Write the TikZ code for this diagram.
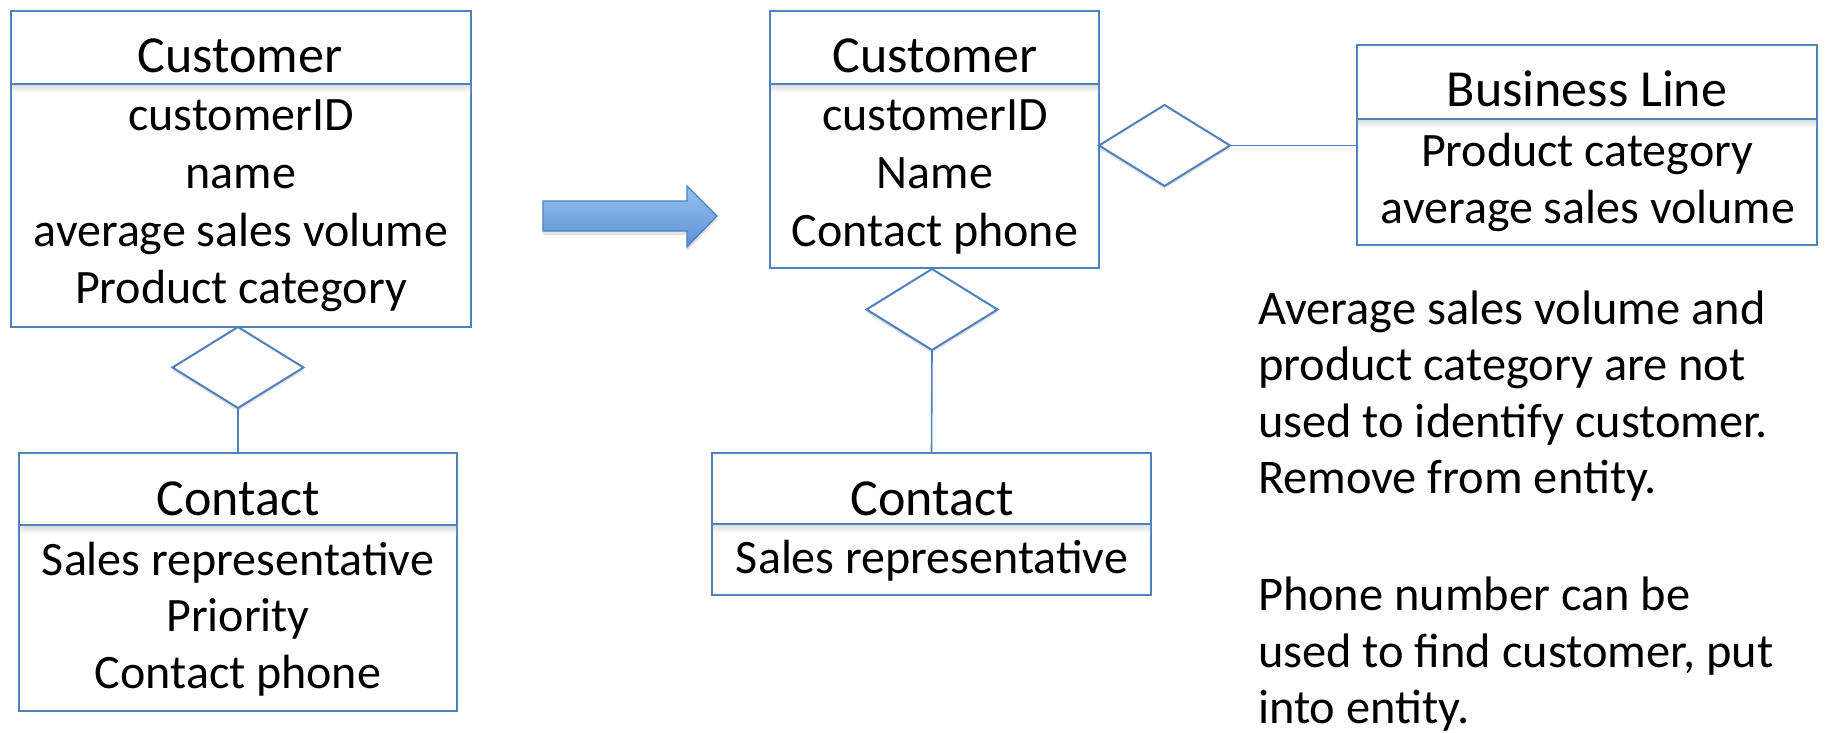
\documentclass[tikz,border=0pt]{standalone}
\usepackage{fontspec}
\setmainfont{Carlito}
\usetikzlibrary{shapes.geometric,shadows}

\definecolor{erblue}{HTML}{4F81BD}
\definecolor{arrowlight}{HTML}{98C0F0}
\definecolor{arrowdark}{HTML}{5A91D4}

\begin{document}
\begin{tikzpicture}[x=0.5pt, y=-0.5pt,
  entity/.style={draw=erblue, line width=1pt, fill=white, inner sep=0pt, outer sep=0pt},
  relation/.style={diamond, draw=erblue, line width=1pt, fill=white, inner sep=0pt, outer sep=0pt,
    minimum width=65.5pt, minimum height=40.5pt,
    drop shadow={shadow xshift=0pt, shadow yshift=-1.5pt, opacity=0.18, fill=black!60}},
  link/.style={erblue, line width=0.8pt},
  divider/.style={erblue, line width=0.8pt},
  divshade/.style={top color=black!13, bottom color=white, draw=none},
  txt/.style={anchor=base, inner sep=0pt, outer sep=0pt, font=\fontsize{24pt}{28.5pt}\selectfont},
  title/.style={txt, font=\fontsize{26pt}{30pt}\selectfont},
  notetxt/.style={txt, anchor=base west, font=\fontsize{24.2pt}{28.5pt}\selectfont}]
\useasboundingbox (0,0) rectangle (1826,733);
\fill[white] (0,0) rectangle (1826,733);

% ---------- left: original design ----------
\node[entity, minimum width=230pt, minimum height=158pt] (cust1) at (241,169) {};
\shade[divshade] (12,85) rectangle (470,93);
\draw[divider] (11,84) -- (471,84);
\node[title] (cust1t) at (240,73) {Customer};
\node[txt] (cust1a) at (241,131) {customerID};
\node[txt] (cust1b) at (241,188) {name};
\node[txt] (cust1c) at (241,246) {average sales volume};
\node[txt] (cust1d) at (241,303) {Product category};

\node[relation] (rel1) at (238,367.5) {};

\node[entity, minimum width=219pt, minimum height=129pt] (cont1) at (238,582) {};
\shade[divshade] (20,526) rectangle (456,534);
\draw[divider] (19,525) -- (457,525);
\node[title] (cont1t) at (238,515) {Contact};
\node[txt] (cont1a) at (238,575) {Sales representative};
\node[txt] (cont1b) at (238,631) {Priority};
\node[txt] (cont1c) at (238,688) {Contact phone};

\draw[link] (rel1.south) -- (cont1.north);

% ---------- transformation arrow ----------
\path[draw=erblue, line width=0.6pt, top color=arrowlight, bottom color=arrowdark,
      drop shadow={shadow xshift=0pt, shadow yshift=-2pt, opacity=0.22, fill=black!50}]
  (543,201) -- (687,201) -- (687,186) -- (717,216) -- (687,247) -- (687,231) -- (543,231) -- cycle;

% ---------- right: revised design ----------
\node[entity, minimum width=164.5pt, minimum height=128.5pt] (cust2) at (934.5,139.5) {};
\shade[divshade] (771,85) rectangle (1098,93);
\draw[divider] (770,84) -- (1099,84);
\node[title] (cust2t) at (935,73) {Customer};
\node[txt] (cust2a) at (935,131) {customerID};
\node[txt] (cust2b) at (935,188) {Name};
\node[txt] (cust2c) at (935,246) {Contact phone};

\node[relation] (rel2) at (932,309.5) {};

\node[entity, minimum width=219.5pt, minimum height=71pt] (cont2) at (931.5,524) {};
\shade[divshade] (713,525) rectangle (1150,533);
\draw[divider] (712,524) -- (1151,524);
\node[title] (cont2t) at (932,515) {Contact};
\node[txt] (cont2a) at (932,573) {Sales representative};

\draw[link] (rel2.south) -- (cont2.north);

\node[relation] (rel3) at (1164.5,145.5) {};

\node[entity, minimum width=230pt, minimum height=100pt] (biz) at (1587,145) {};
\shade[divshade] (1358,120) rectangle (1816,128);
\draw[divider] (1357,119) -- (1817,119);
\node[title] (bizt) at (1587,107) {Business Line};
\node[txt] (biza) at (1587,167) {Product category};
\node[txt] (bizb) at (1588,223) {average sales volume};

\draw[link] (rel3.east) -- (biz.west |- rel3.east);

% ---------- explanatory notes ----------
\node[notetxt] (n1) at (1258,324) {Average sales volume and};
\node[notetxt] (n2) at (1258,380) {product category are not};
\node[notetxt] (n3) at (1258,437) {used to identify customer.};
\node[notetxt] (n4) at (1258,493) {Remove from entity.};
\node[notetxt] (n5) at (1258,610) {Phone number can be};
\node[notetxt] (n6) at (1258,667) {used to find customer, put};
\node[notetxt] (n7) at (1258,723) {into entity.};
\end{tikzpicture}
\end{document}
